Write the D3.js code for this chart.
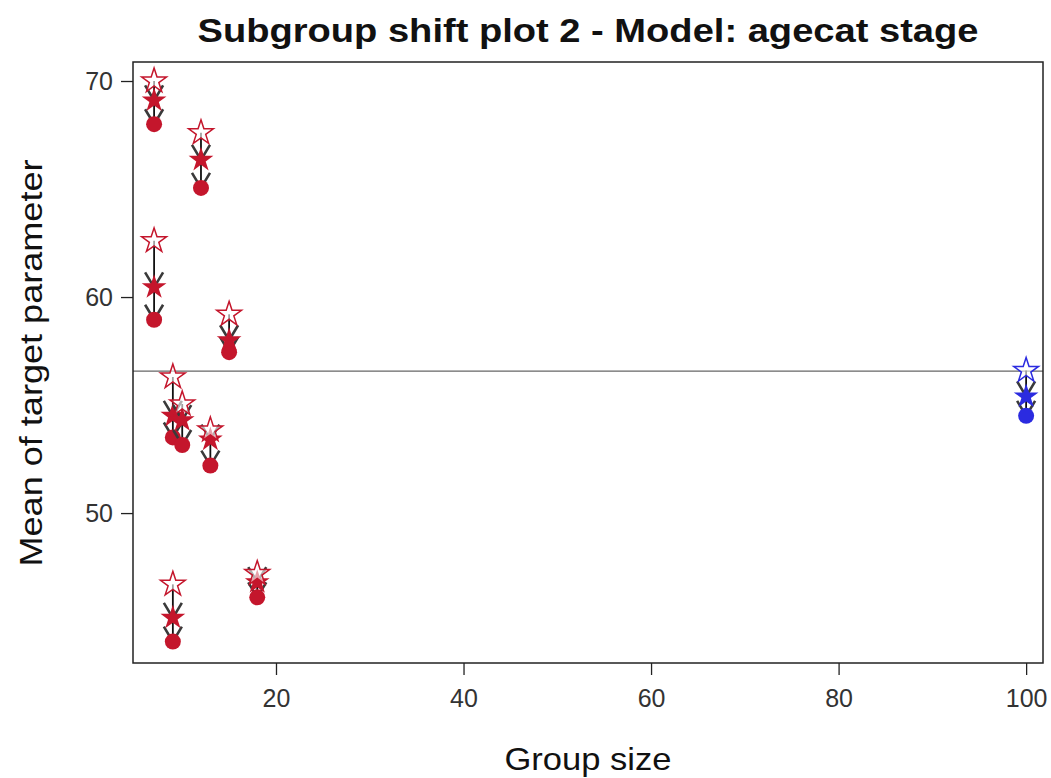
<!DOCTYPE html>
<html>
<head>
<meta charset="utf-8">
<script src="https://cdn.jsdelivr.net/npm/d3@7"></script>
<style>
  body { margin: 0; background: #fff; }
  svg { font-family: "Liberation Sans", Arial, sans-serif; }
</style>
</head>
<body>
<svg></svg>
<script>
const svgWidth = 1051;
const svgHeight = 778;

// group data: size, open star (start), filled star (mid), filled circle (end)
const groupSize = [7, 12, 7, 15, 9, 10, 13, 9, 18, 100];
const startMean = [70.0, 67.6, 62.6, 59.2, 56.3, 55.05, 53.85, 46.7, 47.2, 56.6];
const midMean   = [69.1, 66.35, 60.45, 58.0, 54.5, 54.3, 53.4, 45.15, 46.8, 55.4];
const endMean   = [68.0, 65.05, 58.95, 57.45, 53.5, 53.15, 52.2, 44.05, 46.1, 54.5];
const isOverall = [false, false, false, false, false, false, false, false, false, true];
const refLine = 56.57;
const xTicks = [20, 40, 60, 80, 100];
const yTicks = [50, 60, 70];

const box = {left: 133, right: 1043, top: 62, bottom: 663};

const svg = d3.select("svg")
	.attr("width", svgWidth)
	.attr("height", svgHeight);

const xScale = d3.scaleLinear()
	.domain([4.75, 101.8])
	.range([box.left, box.right]);
const yScale = d3.scaleLinear()
	.domain([43.06, 70.88])
	.range([box.bottom, box.top]);

const data = groupSize.map((s, i) => ({
	size: s, start: startMean[i], mid: midMean[i], end: endMean[i],
	color: isOverall[i] ? "#2b2be0" : "#c4162c"
}));

// reference line
svg.append("line")
	.attr("x1", box.left).attr("x2", box.right)
	.attr("y1", yScale(refLine)).attr("y2", yScale(refLine))
	.attr("stroke", "#666").attr("stroke-width", 1.2);

// axes
const xAxis = d3.axisBottom(xScale).tickValues(xTicks).tickSize(12).tickSizeOuter(0).tickPadding(14);
const yAxis = d3.axisLeft(yScale).tickValues(yTicks).tickSize(12).tickSizeOuter(0).tickPadding(8);

const gx = svg.append("g")
	.attr("transform", `translate(0, ${box.bottom})`)
	.call(xAxis);
const gy = svg.append("g")
	.attr("transform", `translate(${box.left}, 0)`)
	.call(yAxis);
[gx, gy].forEach(g => {
	g.select(".domain").remove();
	g.selectAll(".tick line").attr("stroke", "#222").attr("stroke-width", 1.3);
	g.selectAll(".tick text").attr("font-size", 25).attr("fill", "#333")
		.attr("font-family", "Liberation Sans, Arial, sans-serif");
});

// plot frame
svg.append("rect")
	.attr("x", box.left).attr("y", box.top)
	.attr("width", box.right - box.left).attr("height", box.bottom - box.top)
	.attr("fill", "none").attr("stroke", "#222").attr("stroke-width", 1.5);

// shift markers
const star = d3.symbol().type(d3.symbolStar).size(190);
const groups = svg.append("g").selectAll("g")
	.data(data)
	.enter()
	.append("g");

groups.append("line")
	.attr("x1", d => xScale(d.size)).attr("x2", d => xScale(d.size))
	.attr("y1", d => yScale(d.start)).attr("y2", d => yScale(d.end))
	.attr("stroke", "#111").attr("stroke-width", 1.8);

function arrowHead(g, key) {
	g.append("path")
		.attr("d", d => {
			const x = xScale(d.size), y = yScale(d[key]);
			return `M${x - 9},${y - 15}L${x},${y}L${x + 9},${y - 15}`;
		})
		.attr("fill", "none").attr("stroke", "#3a3a3a").attr("stroke-width", 2.6);
}
arrowHead(groups, "mid");
arrowHead(groups, "end");

groups.append("circle")
	.attr("cx", d => xScale(d.size))
	.attr("cy", d => yScale(d.end))
	.attr("r", 8)
	.attr("fill", d => d.color);

groups.append("path")
	.attr("d", star)
	.attr("transform", d => `translate(${xScale(d.size)}, ${yScale(d.mid)})`)
	.attr("fill", d => d.color);

groups.append("path")
	.attr("d", star)
	.attr("transform", d => `translate(${xScale(d.size)}, ${yScale(d.start)})`)
	.attr("fill", "#fff").attr("fill-opacity", 0.6)
	.attr("stroke", d => d.color).attr("stroke-width", 1.5);

// title
svg.append("text")
	.text("Subgroup shift plot 2 - Model: agecat stage")
	.attr("x", 588).attr("y", 42)
	.attr("font-size", 34).attr("font-weight", "bold")
	.attr("textLength", 781).attr("lengthAdjust", "spacingAndGlyphs")
	.attr("text-anchor", "middle").attr("fill", "#111");

// axis labels
svg.append("text")
	.text("Group size")
	.attr("x", 588).attr("y", 770)
	.attr("font-size", 32)
	.attr("textLength", 167).attr("lengthAdjust", "spacingAndGlyphs")
	.attr("text-anchor", "middle").attr("fill", "#111");

svg.append("text")
	.text("Mean of target parameter")
	.attr("transform", "rotate(-90)")
	.attr("x", -363).attr("y", 42)
	.attr("font-size", 32)
	.attr("textLength", 407).attr("lengthAdjust", "spacingAndGlyphs")
	.attr("text-anchor", "middle").attr("fill", "#111");
</script>
</body>
</html>
